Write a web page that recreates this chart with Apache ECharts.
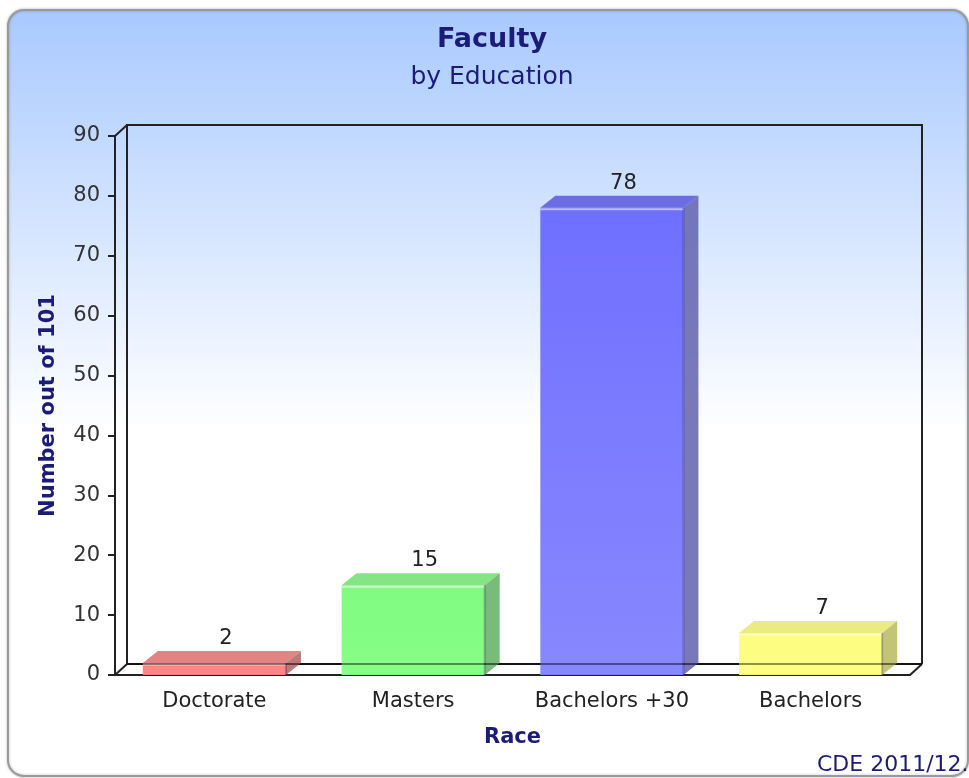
<!DOCTYPE html>
<html lang="en" style="height:100%">
<head>
    <meta charset="UTF-8">
    <title>Faculty by Education</title>
    <script src="https://cdn.jsdelivr.net/npm/echarts@6/dist/echarts.min.js"></script>
</head>
<body style="height:100%;margin:0">
<div id="main" style="width:969px;height:778px;"></div>
<script type="text/javascript">
    // data
    var categories = ['Doctorate', 'Masters', 'Bachelors +30', 'Bachelors'];
    var counts = [2, 15, 78, 7];
    var yTicks = [0, 10, 20, 30, 40, 50, 60, 70, 80, 90];

    // face colours per bar: front (top->bottom), top, side
    var faces = [
        {front: ['#fb7a7a', '#ff8080'], top: '#e27c7c', side: '#b46666'},
        {front: ['#78fa78', '#80ff80'], top: '#7ee47e', side: '#68b068'},
        {front: ['#6868ff', '#8080ff'], top: '#6666e0', side: '#6666b0'},
        {front: ['#fcfc76', '#ffff80'], top: '#eaea7c', side: '#bcbc66'}
    ];

    var navy = '#1c1c78';
    var gl = 115, gr = 910, gt = 136, gb = 675;   // front plane of the plot
    var dx = 12, dy = -11;                         // depth of back wall
    var bdx = 15, bdy = -12;                       // depth of bars

    function renderBar(params, api) {
        var i = params.dataIndex;
        var base = api.coord([api.value(0), 0]);
        var top = api.coord([api.value(0), api.value(1)]);
        var w = api.size([1, 0])[0] * 0.72;
        var l = base[0] - w / 2, r = base[0] + w / 2;
        var y0 = base[1], y1 = top[1];
        var f = faces[i];
        return {
            type: 'group',
            children: [
                {
                    type: 'rect',
                    shape: {x: l, y: y1, width: w, height: y0 - y1},
                    style: {
                        fill: new echarts.graphic.LinearGradient(0, 0, 0, 1, [
                            {offset: 0, color: f.front[0]}, {offset: 1, color: f.front[1]}
                        ]),
                        opacity: 0.94
                    }
                },
                {
                    type: 'polygon',
                    shape: {points: [[l, y1], [l + bdx, y1 + bdy], [r + bdx, y1 + bdy], [r, y1]]},
                    style: {fill: f.top, opacity: 0.95}
                },
                {
                    type: 'polygon',
                    shape: {points: [[r, y1], [r + bdx, y1 + bdy], [r + bdx, y0 + bdy], [r, y0]]},
                    style: {fill: f.side, opacity: 0.88}
                },
                {
                    type: 'line',
                    shape: {x1: l, y1: y1 + 1.5, x2: r, y2: y1 + 1.5},
                    style: {stroke: 'rgba(255,255,255,0.55)', lineWidth: 2}
                },
                {
                    type: 'line',
                    shape: {x1: r, y1: y1, x2: r, y2: y0},
                    style: {stroke: 'rgba(0,0,60,0.25)', lineWidth: 2}
                },
                {
                    type: 'text',
                    style: {
                        text: String(api.value(1)),
                        x: base[0] + bdx / 2 + 4,
                        y: y1 + bdy - 2,
                        align: 'center',
                        verticalAlign: 'bottom',
                        fontFamily: 'DejaVu Sans',
                        fontSize: 21,
                        fill: '#222'
                    }
                }
            ]
        };
    }

    var wallStyle = {stroke: '#222', lineWidth: 2};

    var myChart = echarts.init(document.getElementById('main'));
    var option = {
        animation: false,
        textStyle: {fontFamily: 'DejaVu Sans'},
        graphic: [
            {
                type: 'rect',
                z: -10,
                shape: {x: 8, y: 10, width: 960, height: 766, r: 16},
                style: {
                    fill: new echarts.graphic.LinearGradient(0, 0, 0, 1, [
                        {offset: 0, color: '#a8c9ff'},
                        {offset: 0.55, color: '#ffffff'},
                        {offset: 1, color: '#ffffff'}
                    ]),
                    stroke: '#9a9a9a',
                    lineWidth: 2,
                    shadowBlur: 3,
                    shadowColor: 'rgba(0,0,0,0.25)'
                }
            },
            {
                type: 'text',
                x: 492,
                y: 40,
                style: {text: 'Faculty', align: 'center', verticalAlign: 'middle',
                    fontFamily: 'DejaVu Sans', fontWeight: 'bold', fontSize: 27, fill: navy}
            },
            {
                type: 'text',
                x: 492,
                y: 77,
                style: {text: 'by Education', align: 'center', verticalAlign: 'middle',
                    fontFamily: 'DejaVu Sans', fontSize: 25, fill: navy}
            },
            // back wall and depth edges
            {type: 'polyline', z: 1, shape: {points: [[gl + dx, gb + dy], [gl + dx, gt + dy], [gr + dx, gt + dy], [gr + dx, gb + dy]]}, style: wallStyle},
            {type: 'line', z: 1, shape: {x1: gl + dx, y1: gb + dy, x2: gr + dx, y2: gb + dy}, style: wallStyle},
            {type: 'line', z: 1, shape: {x1: gl, y1: gt, x2: gl + dx, y2: gt + dy}, style: wallStyle},
            {type: 'line', z: 1, shape: {x1: gl, y1: gb, x2: gl + dx, y2: gb + dy}, style: wallStyle},
            {type: 'line', z: 1, shape: {x1: gr, y1: gb, x2: gr + dx, y2: gb + dy}, style: wallStyle},
            // back floor edge showing through the translucent bars
            {type: 'line', z: 10, shape: {x1: gl + dx, y1: gb + dy, x2: gr + dx, y2: gb + dy},
                style: {stroke: 'rgba(0,0,0,0.4)', lineWidth: 2}},
            {
                type: 'text',
                x: 817,
                y: 776,
                style: {text: 'CDE 2011/12.', verticalAlign: 'bottom',
                    fontFamily: 'DejaVu Sans', fontSize: 22, fill: navy}
            }
        ],
        grid: {left: gl, right: 969 - gr, top: gt, bottom: 778 - gb},
        xAxis: {
            type: 'category',
            data: categories,
            name: 'Race',
            nameLocation: 'middle',
            nameGap: 52,
            nameTextStyle: {fontSize: 21, fontWeight: 'bold', color: navy},
            axisLine: {lineStyle: {color: '#222', width: 2}},
            axisTick: {alignWithLabel: true, length: 8, lineStyle: {color: '#222', width: 2}},
            axisLabel: {interval: 0, fontSize: 21, color: '#222', margin: 16}
        },
        yAxis: {
            type: 'value',
            min: 0,
            max: 90,
            interval: 10,
            name: 'Number out of 101',
            nameLocation: 'middle',
            nameGap: 56,
            nameRotate: 90,
            nameTextStyle: {fontSize: 21, fontWeight: 'bold', color: navy},
            axisLine: {show: true, lineStyle: {color: '#222', width: 2}},
            axisTick: {show: true, length: 7, lineStyle: {color: '#222', width: 2}},
            axisLabel: {fontSize: 21, color: '#333', margin: 15},
            splitLine: {show: false}
        },
        series: [
            {
                type: 'custom',
                renderItem: renderBar,
                data: counts.map(function (v, i) { return [i, v]; }),
                z: 5
            }
        ]
    };
    myChart.setOption(option);
</script>
</body>
</html>
